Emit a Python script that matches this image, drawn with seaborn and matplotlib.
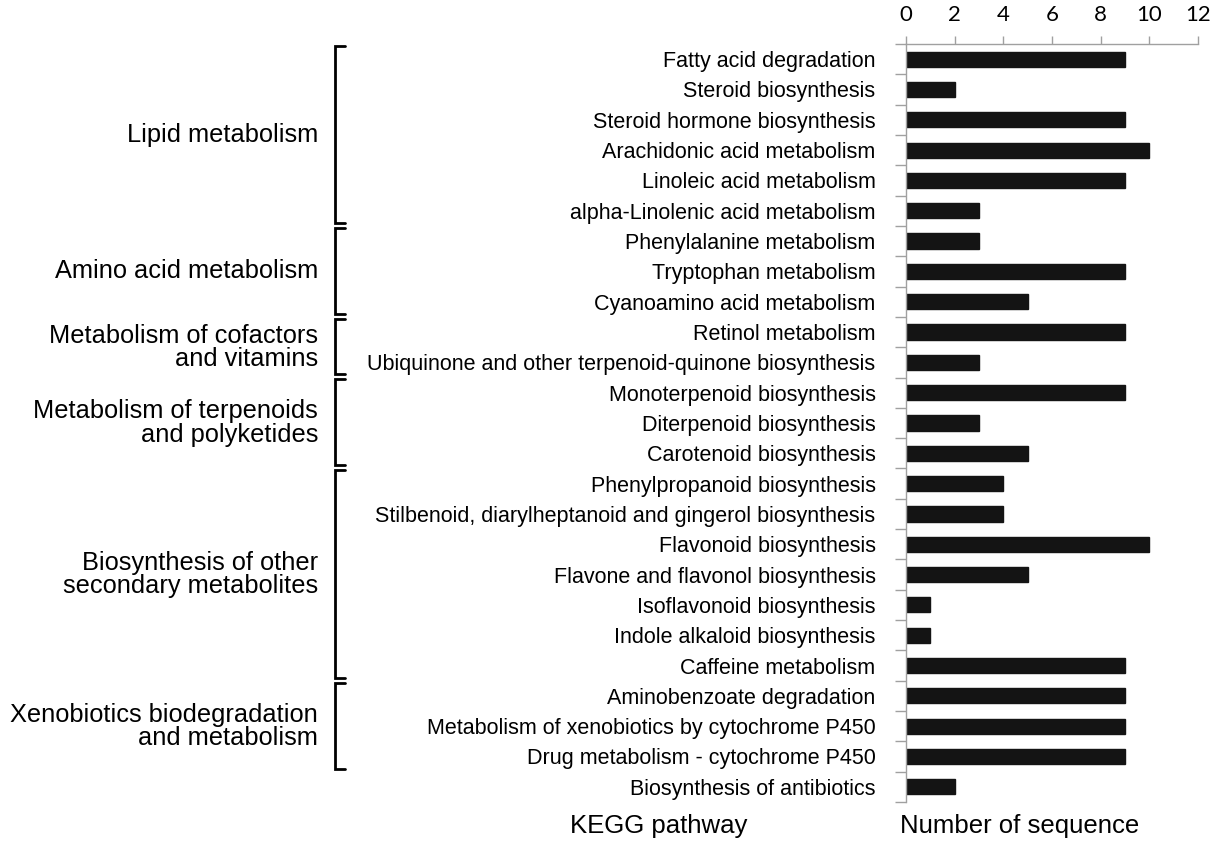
import matplotlib
matplotlib.use("Agg")
import matplotlib.pyplot as plt
import matplotlib.transforms as mtransforms
import seaborn as sns
import pandas as pd
import numpy as np

pathways = [
    "Fatty acid degradation",
    "Steroid biosynthesis",
    "Steroid hormone biosynthesis",
    "Arachidonic acid metabolism",
    "Linoleic acid metabolism",
    "alpha-Linolenic acid metabolism",
    "Phenylalanine metabolism",
    "Tryptophan metabolism",
    "Cyanoamino acid metabolism",
    "Retinol metabolism",
    "Ubiquinone and other terpenoid-quinone biosynthesis",
    "Monoterpenoid biosynthesis",
    "Diterpenoid biosynthesis",
    "Carotenoid biosynthesis",
    "Phenylpropanoid biosynthesis",
    "Stilbenoid, diarylheptanoid and gingerol biosynthesis",
    "Flavonoid biosynthesis",
    "Flavone and flavonol biosynthesis",
    "Isoflavonoid biosynthesis",
    "Indole alkaloid biosynthesis",
    "Caffeine metabolism",
    "Aminobenzoate degradation",
    "Metabolism of xenobiotics by cytochrome P450",
    "Drug metabolism - cytochrome P450",
    "Biosynthesis of antibiotics",
]
counts = [9, 2, 9, 10, 9, 3, 3, 9, 5, 9, 3, 9, 3, 5, 4, 4, 10, 5, 1, 1, 9, 9, 9, 9, 2]

group_names = [
    "Lipid metabolism",
    "Amino acid metabolism",
    "Metabolism of cofactors\nand vitamins",
    "Metabolism of terpenoids\nand polyketides",
    "Biosynthesis of other\nsecondary metabolites",
    "Xenobiotics biodegradation\nand metabolism",
]
group_start = [0, 6, 9, 11, 14, 21]
group_end = [5, 8, 10, 13, 20, 23]

x_ticks = [0, 2, 4, 6, 8, 10, 12]

df = pd.DataFrame({"pathway": pathways, "count": counts})

sns.set_theme(style="white")
plt.rcParams["font.family"] = ["Liberation Sans", "DejaVu Sans"]
plt.rcParams["text.color"] = "black"
plt.rcParams["xtick.color"] = "black"
plt.rcParams["ytick.color"] = "black"

fig = plt.figure(figsize=(12.17, 8.41), dpi=100)
ax = fig.add_axes([0.7445, 0.0464, 0.9844 - 0.7445, 0.9477 - 0.0464])

sns.barplot(data=df, y="pathway", x="count", orient="h", color="#141414",
            width=0.5, ax=ax, saturation=1, edgecolor="#141414")

ax.set_xlim(0, 12)
ax.set_ylim(len(pathways) - 0.5, -0.5)
ax.xaxis.tick_top()
ax.set_xticks(x_ticks)
ax.set_xticklabels([str(t) for t in x_ticks], fontsize=16, family=["Lato", "DejaVu Sans"])
ax.tick_params(axis="x", which="major", direction="out", length=6, width=1,
               color="#a0a0a0", labelcolor="black", pad=8, top=True, bottom=False)
ax.set_xlabel("")
ax.set_ylabel("")

ax.set_yticks(range(len(pathways)))
ax.set_yticklabels(pathways, fontsize=15.5)
ax.tick_params(axis="y", which="major", length=0, pad=22, labelcolor="black")
ax.set_yticks(np.arange(-0.5, len(pathways), 1.0), minor=True)
ax.tick_params(axis="y", which="minor", length=8, width=1, color="#a0a0a0", left=True)

for s in ["right", "bottom"]:
    ax.spines[s].set_visible(False)
for s in ["left", "top"]:
    ax.spines[s].set_color("#a0a0a0")
    ax.spines[s].set_linewidth(1)

trans = mtransforms.blended_transform_factory(fig.transFigure, ax.transData)
bx = 335 / 1217
serif = 10 / 1217
for name, s, e in zip(group_names, group_start, group_end):
    top = s - 0.5 + 0.06
    bot = e + 0.5 - 0.1
    ax.plot([bx + serif, bx, bx, bx + serif], [top, top, bot, bot], color="black",
            lw=2, transform=trans, clip_on=False, solid_joinstyle="miter")
    ax.text(318 / 1217, (s + e) / 2, name, transform=trans, ha="right", va="center",
            multialignment="right", fontsize=18.3, linespacing=0.95, color="black")

fig.text(659 / 1217, 1 - 826 / 841, "KEGG pathway", ha="center", va="center",
         fontsize=18.5, color="black")
fig.text(900 / 1217, 1 - 826 / 841, "Number of sequence", ha="left", va="center",
         fontsize=18.5, color="black")

fig.savefig("out.png", dpi=100)
